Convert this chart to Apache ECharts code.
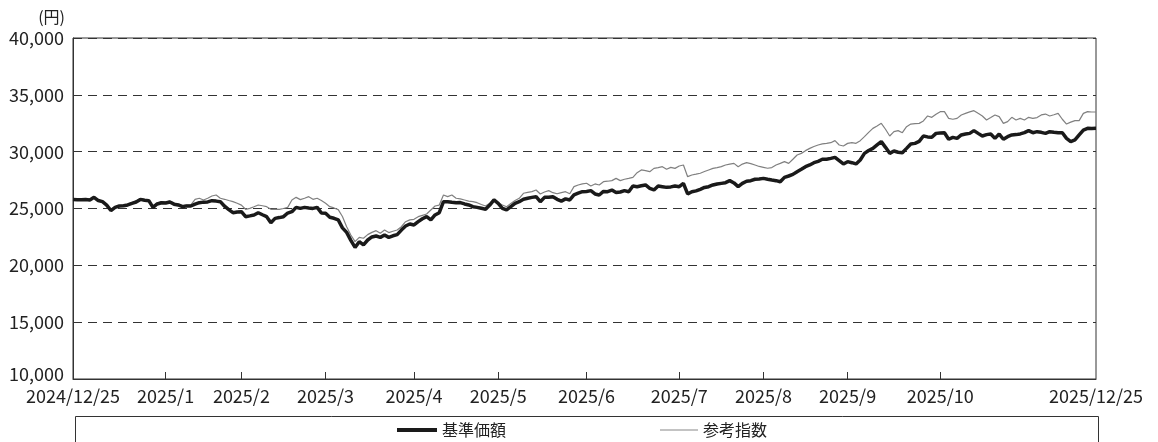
<!DOCTYPE html>
<html>
<head>
<meta charset="utf-8">
<script src="https://cdn.jsdelivr.net/npm/echarts@6/dist/echarts.min.js"></script>
<style>
html,body{margin:0;padding:0;background:#fff;}
#c{width:1158px;height:442px;}
</style>
</head>
<body>
<div id="c"></div>
<script>
// Business-day calendar (Japan) used for the category axis
const startDate = '2024/12/25';
const endDate = '2025/12/25';
const holidays = ['2024/12/31','2025/01/01','2025/01/02','2025/01/03','2025/01/13','2025/02/11','2025/02/24','2025/03/20','2025/04/29','2025/05/05','2025/05/06','2025/07/21','2025/08/11','2025/09/15','2025/09/23','2025/10/13','2025/11/03','2025/11/24'];
const tickMonths = ['2025/1','2025/2','2025/3','2025/4','2025/5','2025/6','2025/7','2025/8','2025/9','2025/10'];
const yTicks = [10000,15000,20000,25000,30000,35000,40000];
const seriesNames = ['基準価額','参考指数'];

// 基準価額 (thick line)
const navValues = [
25800,25780,25760,25790,25750,25980,25700,25600,25300,24820,
25100,25220,25250,25310,25450,25570,25800,25720,25690,25100,
25400,25510,25480,25570,25380,25310,25160,25230,25220,25380,
25510,25560,25580,25690,25650,25600,25200,24900,24630,24700,
24720,24280,24350,24430,24630,24450,24280,23750,24130,24200,
24280,24600,24720,25100,25010,25100,25050,25010,25100,24600,
24580,24230,24140,24000,23300,22900,22200,21580,22080,21800,
22230,22500,22580,22460,22670,22460,22600,22700,23100,23460,
23640,23550,23840,24100,24280,23990,24430,24630,25600,25600,
25550,25510,25520,25400,25310,25160,25100,25015,24930,25300,
25750,25450,25020,24870,25160,25450,25600,25810,25900,25980,
26040,25600,25980,25990,26040,25810,25650,25850,25750,26200,
26350,26480,26500,26570,26280,26190,26500,26480,26620,26400,
26450,26570,26480,26980,26920,27000,27070,26770,26630,26980,
26920,26860,26900,26980,26920,27210,26280,26480,26550,26690,
26850,26920,27070,27150,27210,27270,27450,27250,26920,27210,
27400,27450,27570,27600,27650,27570,27500,27450,27360,27740,
27860,28000,28240,28450,28680,28830,29030,29150,29330,29330,
29410,29500,29210,28920,29120,29030,28920,29270,29850,30100,
30290,30590,30880,30380,29850,30060,29950,29910,30290,30680,
30730,30900,31380,31300,31260,31610,31650,31670,31090,31260,
31170,31470,31550,31610,31850,31610,31380,31500,31550,31170,
31550,31090,31320,31470,31500,31560,31670,31850,31670,31760,
31700,31610,31760,31700,31670,31670,31170,30880,31030,31470,
31900,32050,32040,32050
];

// 参考指数 (thin line)
const refValues = [
25830,25800,25790,25820,25780,26000,25730,25640,25350,24870,
25150,25260,25300,25360,25520,25650,25880,25800,25760,25200,
25480,25580,25560,25650,25450,25380,25250,25300,25320,25810,
25900,25750,25900,26100,26190,25900,25810,25700,25600,25460,
25300,24930,25010,25150,25310,25240,25160,24930,24950,24930,
25000,25100,25750,25980,25780,25900,26040,25810,25900,25700,
25460,25160,25050,24900,24300,23400,22670,22080,22460,22380,
22700,22900,23050,22820,23110,22880,23000,23110,23400,23840,
24000,24050,24280,24400,24520,24870,25220,25300,26190,26040,
26190,25900,25850,25750,25650,25600,25510,25350,25220,25460,
25810,25500,25310,25160,25450,25700,25900,26340,26420,26480,
26630,26280,26450,26570,26390,26300,26400,26480,26300,26920,
27070,27160,27220,26980,27160,27070,27360,27400,27450,27650,
27450,27570,27650,27740,28150,28390,28330,28240,28530,28600,
28680,28450,28620,28530,28740,28830,27800,27950,28020,28100,
28250,28390,28530,28600,28680,28830,28900,28970,28680,28910,
29030,28950,28830,28700,28620,28540,28600,28830,28970,29120,
28970,29330,29710,29850,30090,30290,30450,30590,30680,30730,
30790,30970,30590,30500,30730,30790,30730,30970,31320,31700,
32050,32260,32490,31970,31380,31760,31850,31670,32200,32430,
32460,32490,32700,33140,33020,33300,33520,33520,32930,32850,
32930,33230,33370,33500,33610,33370,33140,32790,33000,33230,
33080,32490,32640,33020,32790,32930,32790,33020,32930,33000,
33230,33310,33140,33250,33370,32850,32430,32600,32730,32730,
33370,33520,33490,33490
];

function pad(n){return (n<10?'0':'')+n;}
function fmt(d){return d.getFullYear()+'/'+pad(d.getMonth()+1)+'/'+pad(d.getDate());}
const categories = [];
(function(){
  const d = new Date(2024,11,25);
  const e = new Date(2025,11,25);
  while (d <= e) {
    const dow = d.getDay();
    const s = fmt(d);
    if (dow !== 0 && dow !== 6 && holidays.indexOf(s) < 0) categories.push(s);
    d.setDate(d.getDate()+1);
  }
})();
const N = categories.length;
function monthKey(s){const p=s.split('/');return p[0]+'/'+parseInt(p[1],10);}
function isMonthEndTick(i){
  if (i+1 >= N) return false;
  const k = monthKey(categories[i]);
  return monthKey(categories[i+1]) !== k && tickMonths.indexOf(k) >= 0;
}
function showLabel(i){ return i===0 || i===N-1 || isMonthEndTick(i); }

const FONT = '"Noto Sans CJK JP","Noto Sans",sans-serif';
const legendCommon = {
  top:417, icon:'rect', symbolKeepAspect:false, itemGap:0,
  textStyle:{color:'#222',fontSize:16,fontFamily:FONT}
};
const chart = echarts.init(document.getElementById('c'), null, {renderer:'canvas'});
chart.setOption({
  animation:false,
  backgroundColor:'#fff',
  textStyle:{fontFamily:FONT},
  grid:{left:73,right:62,top:38,bottom:63,show:true,borderColor:'#333',borderWidth:1,backgroundColor:'transparent'},
  xAxis:{
    type:'category',data:categories,boundaryGap:false,
    axisLine:{lineStyle:{color:'#333',width:1}},
    axisTick:{show:true,inside:true,length:7,lineStyle:{color:'#333'},interval:function(i){return isMonthEndTick(i);}},
    axisLabel:{
      interval:function(i){return showLabel(i);},
      showMinLabel:true,showMaxLabel:true,
      formatter:function(v){
        if (v===startDate || v===endDate) return v;
        return monthKey(v);
      },
      color:'#222',fontSize:18,fontFamily:FONT,margin:8
    },
    splitLine:{show:false}
  },
  yAxis:{
    type:'value',min:yTicks[0],max:yTicks[yTicks.length-1],interval:5000,
    name:'(円)',nameLocation:'end',nameGap:13,
    nameTextStyle:{color:'#222',fontSize:16,fontFamily:FONT,align:'right',padding:[0,8,0,0]},
    axisLine:{show:true,lineStyle:{color:'#333',width:1}},
    axisTick:{show:false},
    axisLabel:{color:'#222',fontSize:18,fontFamily:FONT,margin:9,
      formatter:function(v){
        const s = v.toLocaleString('en-US');
        return v === yTicks[0] ? '{lo|' + s + '}' : s;
      },
      rich:{lo:{fontSize:18,fontFamily:FONT,color:'#222',padding:[0,0,10,0]}}
    },
    splitLine:{show:true,lineStyle:{color:'#333',width:1,type:[9,6]}}
  },
  legend:[
    Object.assign({}, legendCommon, {left:392,itemWidth:40,itemHeight:4,
      data:[{name:seriesNames[0],itemStyle:{color:'#1a1a1a'}}]}),
    Object.assign({}, legendCommon, {left:655,itemWidth:38,itemHeight:1,
      data:[{name:seriesNames[1],itemStyle:{color:'#888'}}]})
  ],
  graphic:[{type:'rect',left:73,top:414,shape:{width:1023,height:60},style:{fill:'none',stroke:'#333',lineWidth:1},silent:true}],
  series:[
    {name:seriesNames[1],type:'line',data:refValues,symbol:'none',z:2,
      lineStyle:{color:'#808080',width:1.2},itemStyle:{color:'#808080'}},
    {name:seriesNames[0],type:'line',data:navValues,symbol:'none',z:3,
      lineStyle:{color:'#1a1a1a',width:3.5},itemStyle:{color:'#1a1a1a'}}
  ]
});
</script>
</body>
</html>
